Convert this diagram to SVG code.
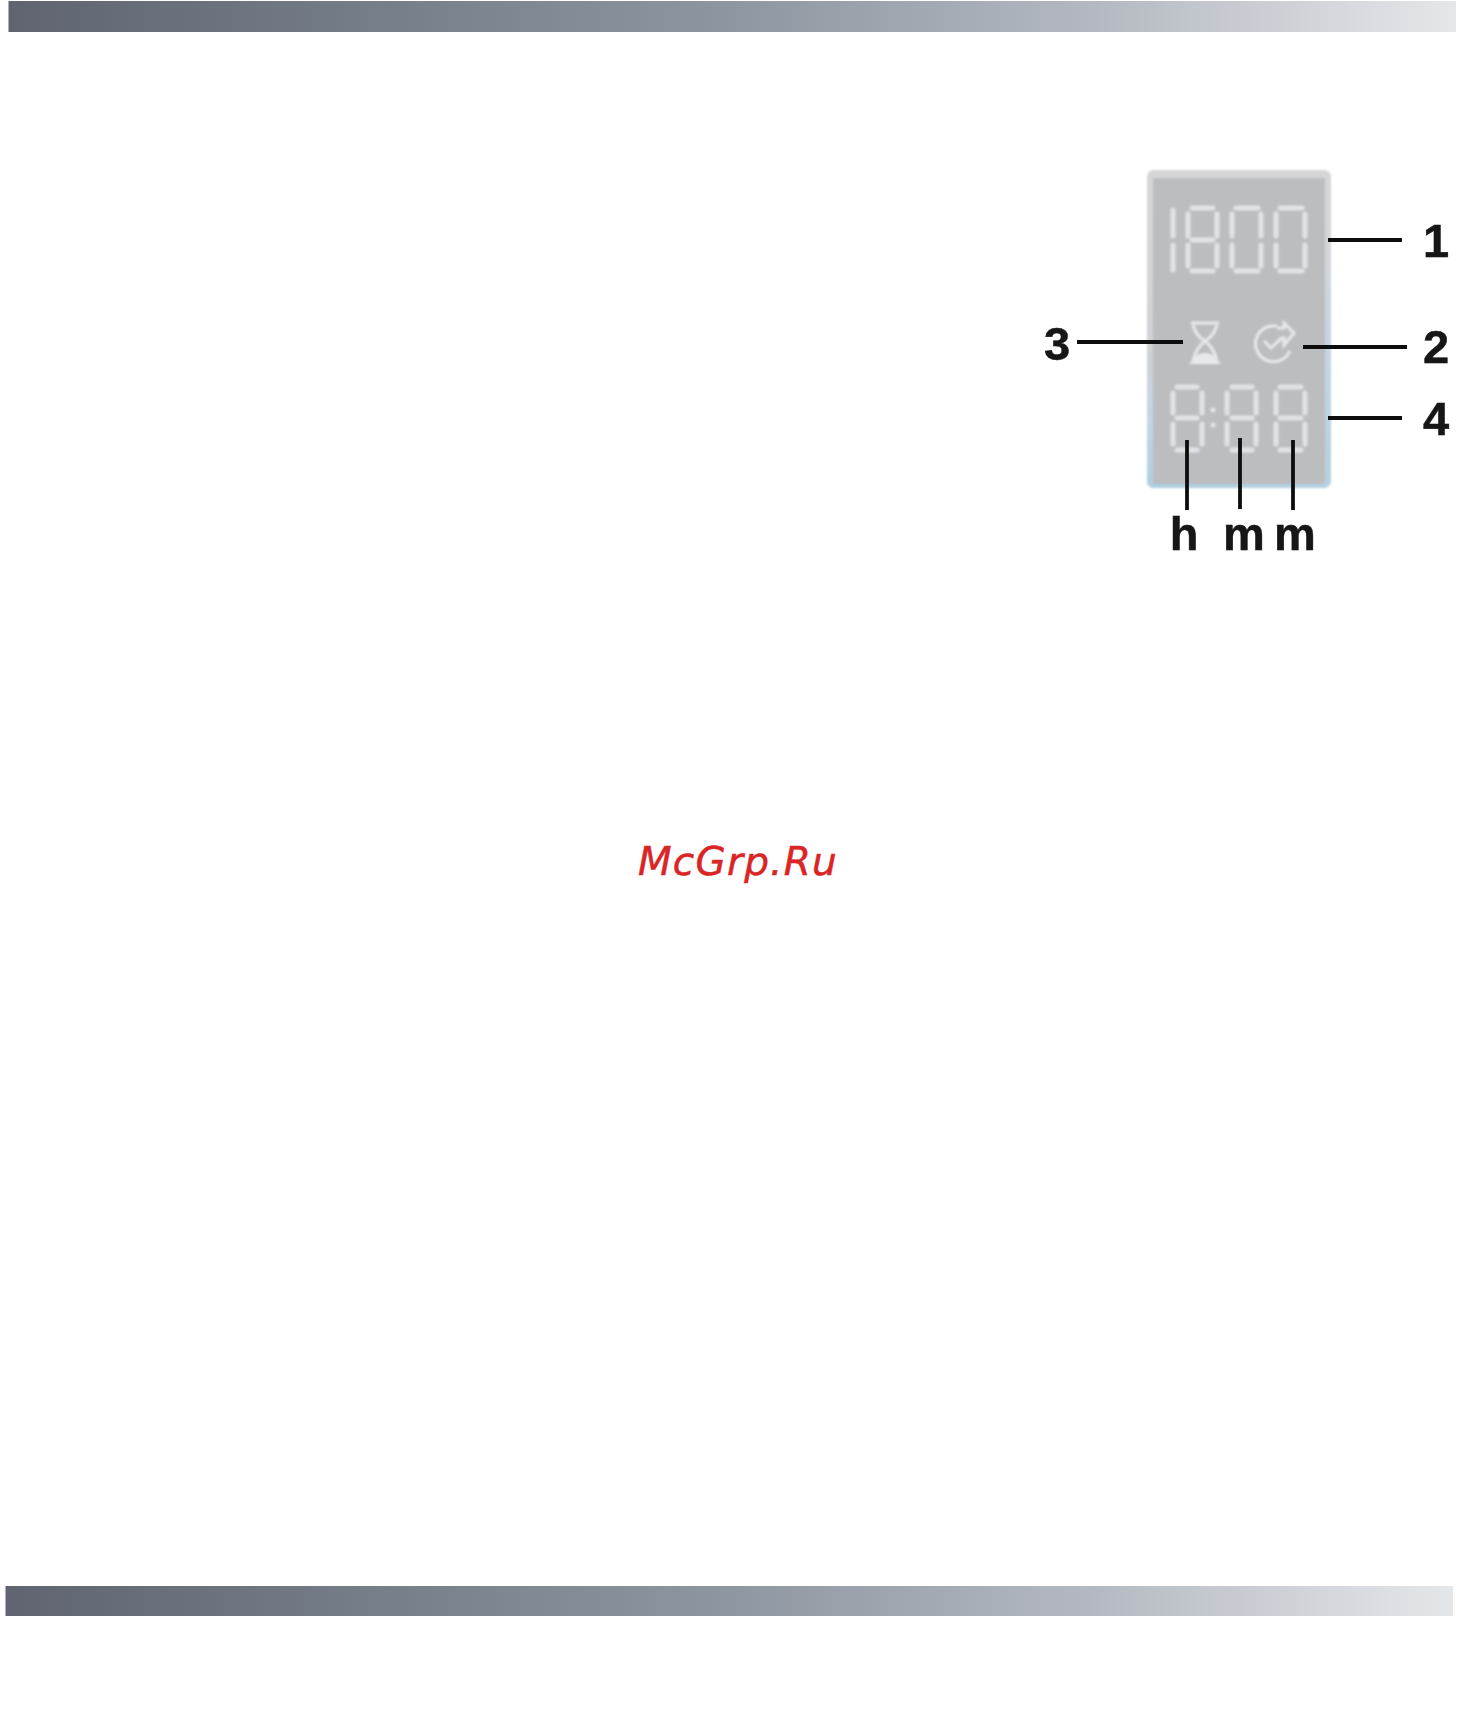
<svg xmlns="http://www.w3.org/2000/svg" width="1463" height="1721" viewBox="0 0 1463 1721">
<style>
.lab{font-family:"Liberation Sans",Arial,sans-serif;font-weight:700;font-size:47px;fill:#141414;stroke:#141414;stroke-width:.5;text-anchor:middle}
.seg{stroke:#e8eaec;stroke-width:5;stroke-linecap:round;fill:none;stroke-opacity:.85}
.ic{stroke:#e6e8ea;stroke-width:3;fill:none}
.con{stroke:#111;stroke-width:3.8;fill:none}
</style>
<defs>
<linearGradient id="bar" x1="0" y1="0" x2="1" y2="0">
<stop offset="0" stop-color="#5f6470"/><stop offset=".25" stop-color="#757d89"/><stop offset=".5" stop-color="#8e96a1"/><stop offset=".75" stop-color="#b4b9c1"/><stop offset="1" stop-color="#e4e7ea"/>
</linearGradient>
<linearGradient id="rim" x1="0" y1="0" x2="0" y2="1">
<stop offset="0" stop-color="#d6d6d6"/><stop offset=".3" stop-color="#d2d6d9"/><stop offset=".65" stop-color="#c0d5e3"/><stop offset="1" stop-color="#b4d0e2"/>
</linearGradient>
<linearGradient id="rimL" x1="0" y1="0" x2="0" y2="1">
<stop offset="0" stop-color="#d6d6d6"/><stop offset=".6" stop-color="#cfd2d4"/><stop offset=".78" stop-color="#c3d6e3"/><stop offset="1" stop-color="#aecde0"/>
</linearGradient>
<filter id="soft" x="-5%" y="-5%" width="110%" height="110%"><feGaussianBlur stdDeviation="1.1"/></filter>
<filter id="softer" x="-5%" y="-5%" width="110%" height="110%"><feGaussianBlur stdDeviation="0.5"/></filter>
</defs>
<rect width="1463" height="1721" fill="#fff"/>
<rect id="top-bar" x="8.500" y="1" width="1447.500" height="31" fill="url(#bar)"/>
<rect id="bottom-bar" x="5.500" y="1586" width="1447.500" height="30" fill="url(#bar)"/>
<g id="display" filter="url(#soft)">
<rect x="1147" y="170" width="184" height="318" rx="7" fill="url(#rim)"/>
<rect x="1147" y="170" width="90" height="318" rx="7" fill="url(#rimL)"/>
<rect x="1153" y="178" width="172" height="306" fill="#bbbdbf"/>
<path class="seg" d="M1173 210V236M1173 245V270"/>
<path class="seg" d="M1192 208H1213M1192 240H1213M1192 271H1213M1188 214V236M1217 214V236M1188 245V266M1217 245V266"/>
<path class="seg" d="M1236 208H1258M1236 271H1258M1232 214V236M1261 214V236M1232 245V266M1261 245V266"/>
<path class="seg" d="M1280 208H1302M1280 271H1302M1276 214V236M1305 214V236M1276 245V266M1305 245V266"/>
<path class="seg" d="M1177 387H1197M1177 418H1197M1177 450H1197M1173 393V413M1202 393V413M1173 424V444M1202 424V444"/>
<path class="seg" d="M1232 387H1252M1232 418H1252M1232 450H1252M1227 393V413M1256 393V413M1227 424V444M1256 424V444"/>
<path class="seg" d="M1280 387H1301M1280 418H1301M1280 450H1301M1276 393V413M1305 393V413M1276 424V444M1305 424V444"/>
<path d="M1213 410h.1M1213 425h.1" class="seg" stroke-width="6"/>
<g id="hourglass">
<path class="ic" d="M1191 323H1219M1193 325Q1196 336 1205 341Q1214 336 1217 325M1205 341Q1196 348 1193 361M1205 341Q1214 348 1217 361"/>
<path d="M1189 364L1197 355Q1205 351 1213 355L1221 364Z" fill="#e6e8ea"/>
</g>
<g id="clock">
<path class="ic" d="M1277 326A18 18 0 1 0 1290 351"/>
<path class="ic" d="M1277 328L1284 328L1284 323L1294 333L1284 345L1284 338L1278 340"/>
<path class="ic" d="M1264 341L1271 348L1283 337"/>
</g>
</g>
<g id="connectors" filter="url(#softer)">
<path class="con" d="M1328 240H1402M1077 342H1183M1303 347H1407M1328 418H1402M1187 440V510M1240 438V509M1293 440V510"/>
</g>
<g id="labels" filter="url(#softer)">
<text class="lab" x="1436" y="257">1</text>
<text class="lab" x="1436" y="363">2</text>
<text class="lab" x="1057" y="360">3</text>
<text class="lab" x="1436" y="435">4</text>
<text class="lab" x="1184" y="550">h</text>
<text class="lab" x="1244" y="550">m</text>
<text class="lab" x="1295" y="550">m</text>
</g>
<text id="watermark" x="638" y="875" font-family="'DejaVu Sans',sans-serif" font-style="oblique" font-size="39" letter-spacing="1.200" fill="#d92525" stroke="#d92525" stroke-width=".5">McGrp.Ru</text>
</svg>
